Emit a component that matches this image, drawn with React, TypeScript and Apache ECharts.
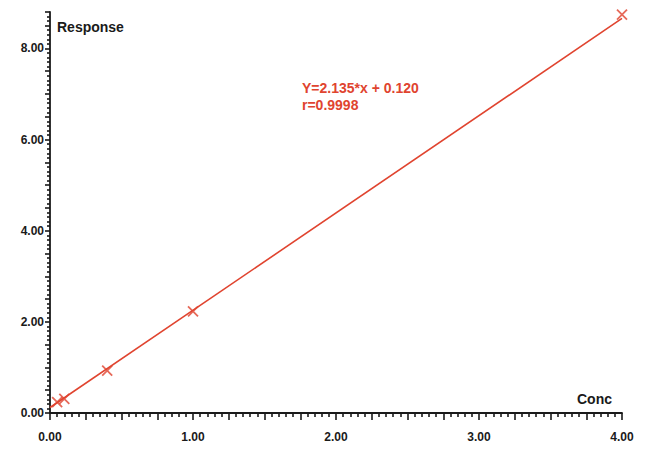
import React, { useEffect, useRef } from "react";
import * as echarts from "echarts";

const concValues = [0.05, 0.1, 0.4, 1.0, 4.0];
const responseValues = [0.24, 0.31, 0.93, 2.23, 8.74];
const fitLineX = [0, 4];
const fitLineY = [0.12, 8.66];
const equationText = "Y=2.135*x + 0.120";
const rText = "r=0.9998";
const xName = "Conc";
const yName = "Response";

const RED = "#e0442f";
const INK = "#1a1a1a";
const FONT = "Liberation Sans, Arial, sans-serif";

export default function App() {
  const ref = useRef<HTMLDivElement>(null);
  useEffect(() => {
    if (!ref.current) return;
    const chart = echarts.init(ref.current, null, { renderer: "svg" });
    const axisLabel = (step: number) => ({
      color: INK,
      fontFamily: FONT,
      fontWeight: "bold" as const,
      fontSize: 12,
      formatter: (v: number) =>
        Math.abs(v / step - Math.round(v / step)) < 1e-6 ? v.toFixed(2) : "",
    });
    const tickStyle = { color: INK, width: 1.6 };
    chart.setOption({
      animation: false,
      grid: { left: 50, top: 12, width: 572, height: 401, containLabel: false },
      xAxis: {
        type: "value",
        min: 0,
        max: 4,
        interval: 0.25,
        offset: 4,
        axisLine: { lineStyle: { color: INK, width: 1.8 } },
        axisTick: { show: true, length: 7, lineStyle: tickStyle },
        minorTick: { show: true, splitNumber: 5, length: 4, lineStyle: tickStyle },
        splitLine: { show: false },
        axisLabel: { ...axisLabel(1), margin: 14 },
      },
      yAxis: {
        type: "value",
        min: 0,
        max: 8.8,
        interval: 0.5,
        offset: 3,
        axisLine: { show: true, lineStyle: { color: INK, width: 1.8 } },
        axisTick: { show: true, length: 5, lineStyle: tickStyle },
        minorTick: { show: true, splitNumber: 5, length: 3, lineStyle: tickStyle },
        splitLine: { show: false },
        axisLabel: { ...axisLabel(2), margin: 3 },
      },
      series: [
        {
          type: "line",
          data: fitLineX.map((x, i) => [x, fitLineY[i]]),
          symbol: "none",
          lineStyle: { color: RED, width: 1.6 },
          z: 2,
        },
        {
          type: "scatter",
          data: concValues.map((x, i) => [x, responseValues[i]]),
          symbol: "path://M0,0 L10,10 M10,0 L0,10",
          symbolSize: 10,
          itemStyle: { color: "none", borderColor: RED, borderWidth: 1.8 },
          z: 3,
        },
      ],
      graphic: [
        {
          type: "text",
          left: 57,
          top: 20,
          style: { text: yName, font: `bold 14px ${FONT}`, fill: INK },
        },
        {
          type: "text",
          left: 577,
          top: 392,
          style: { text: xName, font: `bold 14px ${FONT}`, fill: INK },
        },
        {
          type: "text",
          left: 302,
          top: 81,
          style: { text: equationText, font: `bold 14px ${FONT}`, fill: RED },
        },
        {
          type: "text",
          left: 302,
          top: 98,
          style: { text: rText, font: `bold 14px ${FONT}`, fill: RED },
        },
      ],
    });
    return () => chart.dispose();
  }, []);
  return <div ref={ref} style={{ width: 649, height: 452, position: "absolute", left: 0, top: 0, background: "#fff" }} />;
}
